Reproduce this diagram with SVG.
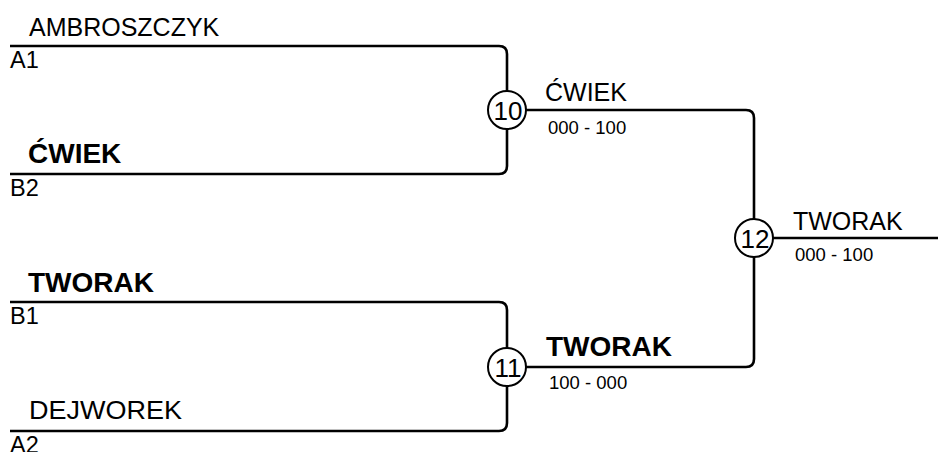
<svg xmlns="http://www.w3.org/2000/svg" width="938" height="452" viewBox="0 0 938 452">
<style>
.ln{fill:none;stroke:#000;stroke-width:2.6;stroke-linejoin:round}
.c{fill:#fff;stroke:#000;stroke-width:2}
.t{font-family:"Liberation Sans",Arial,sans-serif;fill:#000}
.name{font-size:25px}
.win{font-size:28px;font-weight:bold}
.seed{font-size:23.5px}
.num{font-size:26px;text-anchor:middle}
.score{font-size:18.5px}
</style>
<rect width="938" height="452" fill="#fff"/>
<g id="connectors">
<path class="ln" d="M10 46 H499 Q507 46 507 54 V166 Q507 174 499 174 H10"/>
<path class="ln" d="M10 302 H499 Q507 302 507 310 V423 Q507 431 499 431 H10"/>
<path class="ln" d="M507 110 H746 Q754 110 754 118 V359 Q754 367 746 367 H507"/>
<path class="ln" d="M754 238 H938"/>
</g>
<g id="slot-A1">
<text class="t name" x="29" y="36">AMBROSZCZYK</text>
<text class="t seed" x="10" y="68">A1</text>
</g>
<g id="slot-B2">
<text class="t win" x="28" y="163">ĆWIEK</text>
<text class="t seed" x="10" y="196">B2</text>
</g>
<g id="slot-B1">
<text class="t win" x="28" y="292">TWORAK</text>
<text class="t seed" x="10" y="324">B1</text>
</g>
<g id="slot-A2">
<text class="t name" x="29" y="419" textLength="153" lengthAdjust="spacingAndGlyphs">DEJWOREK</text>
<text class="t seed" x="10" y="453">A2</text>
</g>
<g id="match-10">
<circle class="c" cx="507" cy="110" r="19"/>
<text class="t num" x="508" y="119.5">10</text>
<text class="t name" x="545" y="101">ĆWIEK</text>
<text class="t score" x="548" y="134">000 - 100</text>
</g>
<g id="match-11">
<circle class="c" cx="507" cy="367" r="19"/>
<text class="t num" x="508" y="376.5">11</text>
<text class="t win" x="546" y="356">TWORAK</text>
<text class="t score" x="549" y="389">100 - 000</text>
</g>
<g id="match-12">
<circle class="c" cx="754" cy="238" r="19"/>
<text class="t num" x="755" y="247.5">12</text>
<text class="t name" x="793" y="230">TWORAK</text>
<text class="t score" x="795" y="261">000 - 100</text>
</g>
</svg>
